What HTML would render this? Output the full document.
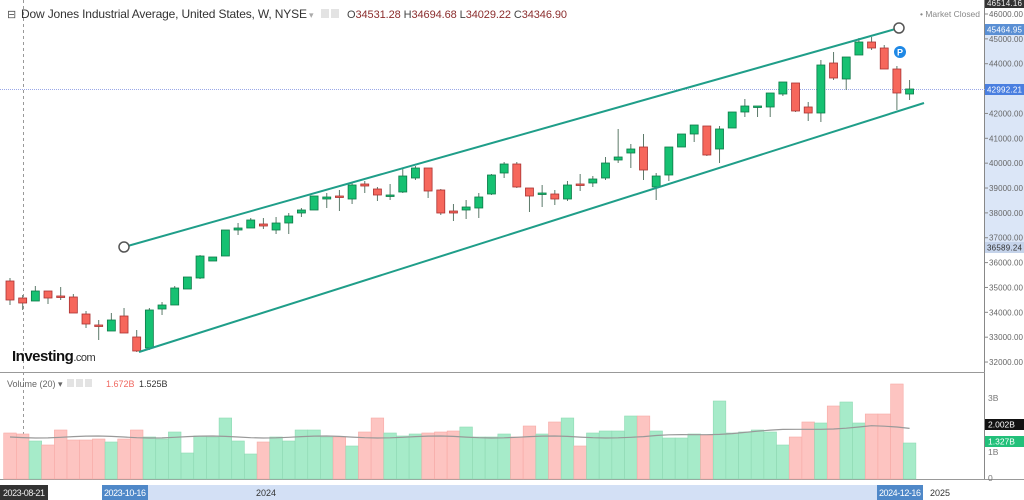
<!DOCTYPE html>
<html><head><meta charset="utf-8"><style>
html,body{margin:0;padding:0;background:#fff;width:1024px;height:500px;overflow:hidden;font-family:"Liberation Sans",sans-serif}
svg{display:block}
</style></head><body>
<svg id="s" width="1024" height="500" xmlns="http://www.w3.org/2000/svg" font-family="Liberation Sans, sans-serif">
<rect x="0" y="0" width="1024" height="500" fill="#fff"/>
<rect x="985" y="28" width="39" height="220" fill="#dbe6f7"/>
<line x1="984.5" y1="0" x2="984.5" y2="480" stroke="#888" stroke-width="1"/>
<line x1="0" y1="372.5" x2="985" y2="372.5" stroke="#999"/>
<line x1="0" y1="479.5" x2="1024" y2="479.5" stroke="#999"/>
<line x1="23.5" y1="0" x2="23.5" y2="480" stroke="#999" stroke-dasharray="3,3"/>
<line x1="0" y1="89.5" x2="985" y2="89.5" stroke="#9aa8e8" stroke-dasharray="1,1"/>
<g id="price"></g>
<g id="vol"></g>
<line x1="124" y1="247" x2="899" y2="28" stroke="#1f9e89" stroke-width="2"/>
<line x1="139" y1="352" x2="924" y2="103" stroke="#1f9e89" stroke-width="2"/>
<circle cx="124" cy="247" r="5" fill="#fff" stroke="#555" stroke-width="1.5"/>
<circle cx="899" cy="28" r="5" fill="#fff" stroke="#555" stroke-width="1.5"/>
<circle cx="900" cy="52" r="6" fill="#1e88e5"/>
<text x="900" y="55.5" font-size="9" font-weight="bold" fill="#fff" text-anchor="middle">P</text>
<text x="7" y="18" font-size="11" fill="#555">⊟</text>
<text x="21" y="18" font-size="12" fill="#333" textLength="286">Dow Jones Industrial Average, United States, W, NYSE</text>
<text x="309" y="18" font-size="9" fill="#aaa">▾</text>
<rect x="321" y="9" width="8" height="9" fill="#e3e3e3"/><rect x="331" y="9" width="8" height="9" fill="#e3e3e3"/>
<text x="347" y="18" font-size="11" fill="#444" textLength="220">O<tspan fill="#8b2d2d">34531.28</tspan>  H<tspan fill="#8b2d2d">34694.68</tspan>  L<tspan fill="#8b2d2d">34029.22</tspan>  C<tspan fill="#8b2d2d">34346.90</tspan></text>
<text x="920" y="17" font-size="8.5" fill="#888" textLength="60">• Market Closed</text>
<text x="12" y="361" font-size="15" font-weight="bold" fill="#111" letter-spacing="-0.5">Investing<tspan font-size="11" font-weight="normal" fill="#333">.com</tspan></text>
<text x="7" y="387" font-size="9" fill="#666">Volume (20) ▾</text>
<rect x="67" y="379" width="7" height="8" fill="#e3e3e3"/><rect x="76" y="379" width="7" height="8" fill="#e3e3e3"/><rect x="85" y="379" width="7" height="8" fill="#e3e3e3"/>
<text x="106" y="387" font-size="9" fill="#f06a62">1.672B</text>
<text x="139" y="387" font-size="9" fill="#333">1.525B</text>
<g id="axis" font-size="8" fill="#666"></g>
<rect x="985" y="-2" width="39" height="10" fill="#333"/>
<text x="987" y="6" font-size="8" fill="#eee" textLength="35">46514.16</text>
<rect x="985" y="24" width="39" height="11" fill="#5a8fd4"/>
<text x="987" y="32.5" font-size="8" fill="#fff" textLength="35">45464.95</text>
<rect x="985" y="84" width="39" height="11" fill="#4a7fe0"/>
<text x="987" y="92.5" font-size="8" fill="#fff" textLength="35">42992.21</text>
<rect x="985" y="242" width="39" height="11" fill="#c5d3ea"/>
<text x="987" y="250.5" font-size="8" fill="#333" textLength="35">36589.24</text>
<text x="988" y="401" font-size="8.5" fill="#777">3B</text>
<rect x="985" y="419" width="39" height="11" fill="#111"/>
<text x="988" y="427.5" font-size="8.5" fill="#fff">2.002B</text>
<rect x="985" y="436" width="39" height="11" fill="#22c07a"/>
<text x="988" y="444.5" font-size="8.5" fill="#fff">1.327B</text>
<text x="988" y="455" font-size="8.5" fill="#777">1B</text>
<text x="988" y="481" font-size="8.5" fill="#777">0</text>
<rect x="147" y="485" width="731" height="15" fill="#d3e0f5"/>
<rect x="0" y="485" width="48" height="15" fill="#333"/>
<text x="3" y="496" font-size="9" fill="#eee" textLength="42">2023-08-21</text>
<rect x="102" y="485" width="46" height="15" fill="#4f88c8"/>
<text x="104" y="496" font-size="9" fill="#fff" textLength="42">2023-10-16</text>
<text x="256" y="496" font-size="9" fill="#333">2024</text>
<rect x="877" y="485" width="46" height="15" fill="#4f88c8"/>
<text x="879" y="496" font-size="9" fill="#fff" textLength="42">2024-12-16</text>
<text x="930" y="496" font-size="9" fill="#333">2025</text>
</svg>
<script>
var C=[
[281,300,278,305],[298,303,295,310],[301,291,286,301],[291,298,291,304],[296,297,287,300],[297,313,294,313],[314,324,311,328],[325,326,320,340],[331,320,313,331],[316,333,308,333],[337,351,330,352],[348,310,308,350],[309,305,302,315],[305,288,286,305],[289,277,277,289],[278,256,255,279],[261,257,257,261],[256,230,230,256],[230,228,223,235],[228,220,218,228],[224,226,218,229],[230,223,217,234],[223,216,213,234],[213,210,208,217],[210,196,196,210],
[199,197,193,208],[196,197,190,211],[199,185,182,204],[184,186,181,193],[189,195,187,201],[196,195,184,200],[192,176,168,193],[178,168,166,180],[168,191,168,198],[190,213,189,215],[211,213,204,221],[210,207,200,219],[208,197,193,218],[194,175,174,195],[173,164,162,178],[164,187,162,188],[188,196,188,212],[194,193,185,207],[194,199,190,205],[199,185,181,201],[184,185,174,191],[183,179,176,187],[178,163,157,180],
[160,157,129,163],[153,149,144,168],[147,170,134,180],[187,176,173,200],[175,147,147,181],[147,134,134,147],[134,125,125,142],[126,155,126,156],[149,129,126,163],[128,112,112,128],[112,106,99,117],[107,106,106,117],[107,93,93,117],[94,82,82,96],[83,111,83,112],[107,113,102,121],[113,65,60,122],[63,78,52,80],[79,57,57,90],[55,42,38,55],[42,48,37,50],[48,69,45,69],[69,93,66,110],[94,89,80,100]];
var V=[433,434,441,445,430,440,440,439,442,439,430,437,439,432,453,436,437,418,441,454,442,437,441,430,430,437,437,446,432,418,433,436,434,433,432,431,427,437,437,434,437,426,434,422,418,446,433,431,431,416,416,431,438,438,434,435,401,433,432,430,432,445,437,422,423,406,402,423,414,414,384,443];
var ns="http://www.w3.org/2000/svg";
function el(t,a,p){var e=document.createElementNS(ns,t);for(var k in a)e.setAttribute(k,a[k]);document.getElementById(p).appendChild(e);return e;}
for(var i=0;i<C.length;i++){var c=C[i],x=10+i*12.67,up=c[1]<c[0];
var col=up?"#16c172":"#f6675c",st=up?"#0d7a48":"#a33";
el("line",{x1:x,y1:c[2],x2:x,y2:c[3],stroke:"#5c7a6a","stroke-width":1},"price");
var t=Math.min(c[0],c[1]),h=Math.max(1.5,Math.abs(c[0]-c[1]));
el("rect",{x:x-4,y:t,width:8,height:h,fill:col,stroke:st,"stroke-width":0.8},"price");
var v=V[i];
el("rect",{x:x-6.3,y:v,width:12.6,height:479-v,fill:up?"#a6ebc9":"#fdc4c1",stroke:up?"#8fd9b4":"#f7aaa6","stroke-width":0.6},"vol");}
var d="";for(var i=0;i<C.length;i++){var x=10+i*12.67;var y=437-(i>50?(i-50)*0.6:0)+Math.sin(i*0.7)*1;if(i>68)y+=(i-68)*1.5;d+=(i?"L":"M")+x+","+y.toFixed(1);}
el("path",{d:d,stroke:"#999",fill:"none","stroke-width":1.2},"vol");
for(var p=46000;p>=32000;p-=1000){var y=14+(46000-p)*0.02486;if(Math.abs(y-89)<6)continue;
el("line",{x1:985,y1:y,x2:988,y2:y,stroke:"#888"},"axis");var t=el("text",{x:989,y:y+3,textLength:34},"axis");t.textContent=p+".00";}
</script>
</body></html>
